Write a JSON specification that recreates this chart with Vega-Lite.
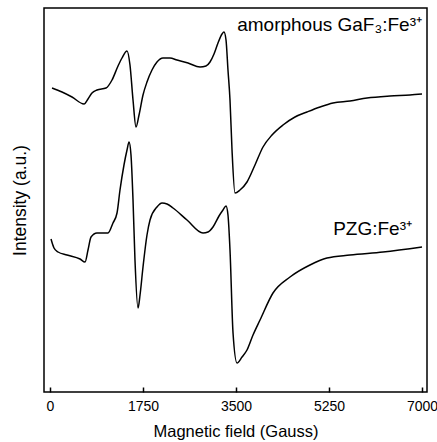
{
  "$schema": "https://vega.github.io/schema/vega-lite/v6.json",
  "width": 383,
  "height": 384,
  "autosize": "none",
  "padding": {"left": 44, "top": 8, "right": 10, "bottom": 50},
  "background": "white",
  "config": {
    "font": "Liberation Sans",
    "view": {"stroke": "black", "strokeWidth": 1.5}
  },
  "datasets": {
    "curves": [
      {"s": "GaF3", "o": 1, "B": 38, "I": 312},
      {"s": "GaF3", "o": 2, "B": 226, "I": 308},
      {"s": "GaF3", "o": 3, "B": 414, "I": 303},
      {"s": "GaF3", "o": 4, "B": 640, "I": 296},
      {"s": "GaF3", "o": 5, "B": 715, "I": 301},
      {"s": "GaF3", "o": 6, "B": 790, "I": 307},
      {"s": "GaF3", "o": 7, "B": 884, "I": 310},
      {"s": "GaF3", "o": 8, "B": 1054, "I": 312},
      {"s": "GaF3", "o": 9, "B": 1167, "I": 320},
      {"s": "GaF3", "o": 10, "B": 1280, "I": 334},
      {"s": "GaF3", "o": 11, "B": 1355, "I": 342},
      {"s": "GaF3", "o": 12, "B": 1449, "I": 349},
      {"s": "GaF3", "o": 13, "B": 1505, "I": 335},
      {"s": "GaF3", "o": 14, "B": 1562, "I": 300},
      {"s": "GaF3", "o": 15, "B": 1618, "I": 273},
      {"s": "GaF3", "o": 16, "B": 1675, "I": 285},
      {"s": "GaF3", "o": 17, "B": 1750, "I": 305},
      {"s": "GaF3", "o": 18, "B": 1825, "I": 318},
      {"s": "GaF3", "o": 19, "B": 1919, "I": 330},
      {"s": "GaF3", "o": 20, "B": 2013, "I": 338},
      {"s": "GaF3", "o": 21, "B": 2126, "I": 342},
      {"s": "GaF3", "o": 22, "B": 2258, "I": 342},
      {"s": "GaF3", "o": 23, "B": 2390, "I": 340},
      {"s": "GaF3", "o": 24, "B": 2597, "I": 337},
      {"s": "GaF3", "o": 25, "B": 2823, "I": 333},
      {"s": "GaF3", "o": 26, "B": 2935, "I": 334},
      {"s": "GaF3", "o": 27, "B": 3011, "I": 338},
      {"s": "GaF3", "o": 28, "B": 3086, "I": 346},
      {"s": "GaF3", "o": 29, "B": 3161, "I": 357},
      {"s": "GaF3", "o": 30, "B": 3237, "I": 366},
      {"s": "GaF3", "o": 31, "B": 3274, "I": 368},
      {"s": "GaF3", "o": 32, "B": 3312, "I": 360},
      {"s": "GaF3", "o": 33, "B": 3349, "I": 330},
      {"s": "GaF3", "o": 34, "B": 3387, "I": 300},
      {"s": "GaF3", "o": 35, "B": 3425, "I": 250},
      {"s": "GaF3", "o": 36, "B": 3481, "I": 207},
      {"s": "GaF3", "o": 37, "B": 3575, "I": 210},
      {"s": "GaF3", "o": 38, "B": 3707, "I": 218},
      {"s": "GaF3", "o": 39, "B": 3857, "I": 235},
      {"s": "GaF3", "o": 40, "B": 4008, "I": 253},
      {"s": "GaF3", "o": 41, "B": 4177, "I": 265},
      {"s": "GaF3", "o": 42, "B": 4384, "I": 275},
      {"s": "GaF3", "o": 43, "B": 4610, "I": 283},
      {"s": "GaF3", "o": 44, "B": 4836, "I": 288},
      {"s": "GaF3", "o": 45, "B": 5081, "I": 293},
      {"s": "GaF3", "o": 46, "B": 5325, "I": 297},
      {"s": "GaF3", "o": 47, "B": 5645, "I": 299},
      {"s": "GaF3", "o": 48, "B": 5965, "I": 302},
      {"s": "GaF3", "o": 49, "B": 6398, "I": 304},
      {"s": "GaF3", "o": 50, "B": 6774, "I": 305},
      {"s": "GaF3", "o": 51, "B": 7000, "I": 306},
      {"s": "PZG", "o": 1, "B": 19, "I": 161},
      {"s": "PZG", "o": 2, "B": 75, "I": 152},
      {"s": "PZG", "o": 3, "B": 151, "I": 148},
      {"s": "PZG", "o": 4, "B": 320, "I": 145},
      {"s": "PZG", "o": 5, "B": 565, "I": 141},
      {"s": "PZG", "o": 6, "B": 659, "I": 138},
      {"s": "PZG", "o": 7, "B": 715, "I": 150},
      {"s": "PZG", "o": 8, "B": 772, "I": 163},
      {"s": "PZG", "o": 9, "B": 884, "I": 167},
      {"s": "PZG", "o": 10, "B": 1091, "I": 167},
      {"s": "PZG", "o": 11, "B": 1185, "I": 177},
      {"s": "PZG", "o": 12, "B": 1261, "I": 187},
      {"s": "PZG", "o": 13, "B": 1317, "I": 210},
      {"s": "PZG", "o": 14, "B": 1392, "I": 235},
      {"s": "PZG", "o": 15, "B": 1449, "I": 250},
      {"s": "PZG", "o": 16, "B": 1487, "I": 258},
      {"s": "PZG", "o": 17, "B": 1524, "I": 245},
      {"s": "PZG", "o": 18, "B": 1562, "I": 200},
      {"s": "PZG", "o": 19, "B": 1599, "I": 140},
      {"s": "PZG", "o": 20, "B": 1656, "I": 92},
      {"s": "PZG", "o": 21, "B": 1694, "I": 105},
      {"s": "PZG", "o": 22, "B": 1750, "I": 133},
      {"s": "PZG", "o": 23, "B": 1825, "I": 165},
      {"s": "PZG", "o": 24, "B": 1882, "I": 180},
      {"s": "PZG", "o": 25, "B": 2013, "I": 193},
      {"s": "PZG", "o": 26, "B": 2108, "I": 197},
      {"s": "PZG", "o": 27, "B": 2202, "I": 196},
      {"s": "PZG", "o": 28, "B": 2315, "I": 192},
      {"s": "PZG", "o": 29, "B": 2578, "I": 180},
      {"s": "PZG", "o": 30, "B": 2879, "I": 167},
      {"s": "PZG", "o": 31, "B": 2973, "I": 168},
      {"s": "PZG", "o": 32, "B": 3067, "I": 173},
      {"s": "PZG", "o": 33, "B": 3180, "I": 184},
      {"s": "PZG", "o": 34, "B": 3255, "I": 190},
      {"s": "PZG", "o": 35, "B": 3312, "I": 194},
      {"s": "PZG", "o": 36, "B": 3349, "I": 185},
      {"s": "PZG", "o": 37, "B": 3387, "I": 150},
      {"s": "PZG", "o": 38, "B": 3444, "I": 67},
      {"s": "PZG", "o": 39, "B": 3519, "I": 37},
      {"s": "PZG", "o": 40, "B": 3613, "I": 43},
      {"s": "PZG", "o": 41, "B": 3707, "I": 50},
      {"s": "PZG", "o": 42, "B": 3820, "I": 65},
      {"s": "PZG", "o": 43, "B": 3952, "I": 80},
      {"s": "PZG", "o": 44, "B": 4196, "I": 107},
      {"s": "PZG", "o": 45, "B": 4516, "I": 123},
      {"s": "PZG", "o": 46, "B": 4892, "I": 135},
      {"s": "PZG", "o": 47, "B": 5212, "I": 142},
      {"s": "PZG", "o": 48, "B": 5645, "I": 145},
      {"s": "PZG", "o": 49, "B": 6266, "I": 148},
      {"s": "PZG", "o": 50, "B": 7000, "I": 153}
    ],
    "labels": [
      {"B": 7000, "I": 369, "t": "amorphous GaF₃:Fe³⁺"},
      {"B": 6812, "I": 165, "t": "PZG:Fe³⁺"}
    ]
  },
  "layer": [
    {
      "data": {"name": "curves"},
      "mark": {"type": "line", "color": "black", "strokeWidth": 1.5, "clip": true, "interpolate": "monotone"},
      "encoding": {
        "x": {
          "field": "B", "type": "quantitative",
          "scale": {"domain": [-113, 7094], "nice": false, "zero": false},
          "axis": {
            "title": "Magnetic field (Gauss)",
            "values": [0, 1750, 3500, 5250, 7000],
            "format": "d",
            "grid": false, "domain": false,
            "tickColor": "black", "tickSize": -5, "tickWidth": 1.5,
            "labelPadding": 12, "labelFontSize": 14, "labelColor": "black",
            "titleFontSize": 16.5, "titleFontWeight": "normal", "titleColor": "black",
            "titlePadding": 10
          }
        },
        "y": {
          "field": "I", "type": "quantitative",
          "scale": {"domain": [8, 392], "nice": false, "zero": false},
          "axis": {
            "title": "Intensity (a.u.)",
            "labels": false, "ticks": false, "grid": false, "domain": false,
            "titleFontSize": 17.5, "titleFontWeight": "normal", "titleColor": "black",
            "titlePadding": 15, "titleY": 192
          }
        },
        "detail": {"field": "s"},
        "order": {"field": "o"}
      }
    },
    {
      "data": {"name": "labels"},
      "mark": {"type": "text", "align": "right", "baseline": "alphabetic", "fontSize": 19, "color": "black"},
      "encoding": {
        "x": {"field": "B", "type": "quantitative"},
        "y": {"field": "I", "type": "quantitative"},
        "text": {"field": "t"}
      }
    }
  ]
}
